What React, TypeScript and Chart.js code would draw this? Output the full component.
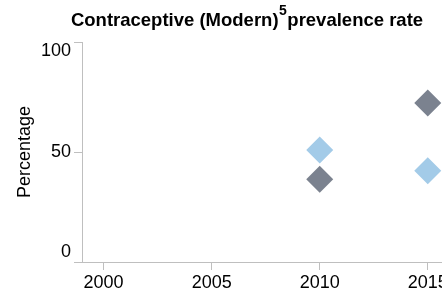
import React, { useEffect, useRef } from "react";
import { Chart, registerables } from "chart.js";
Chart.register(...registerables);

const TITLE_MAIN = "Contraceptive (Modern)";
const TITLE_SUP = "5";
const TITLE_REST = "prevalence rate";
const Y_TITLE = "Percentage";
const years = [2010, 2015];
const seriesDark = [37.6, 72.3];
const seriesLight = [50.9, 41.5];
const xTicks = [2000, 2005, 2010, 2015];
const yTicks = [0, 50, 100];

const DARK = "#7b828f";
const LIGHT = "#a3cbe8";
const AXIS = "#bfbfbf";
const FONT = "'Liberation Sans', Arial, sans-serif";

const titlePlugin = {
  id: "supTitle",
  afterDraw(chart: any) {
    const ctx = chart.ctx;
    ctx.save();
    ctx.fillStyle = "#000";
    ctx.textBaseline = "alphabetic";
    ctx.textAlign = "left";
    const mainFont = `bold 18.5px ${FONT}`;
    const supFont = `bold 14px ${FONT}`;
    ctx.font = mainFont;
    const w1 = ctx.measureText(TITLE_MAIN).width;
    const w3 = ctx.measureText(TITLE_REST).width;
    ctx.font = supFont;
    const w2 = ctx.measureText(TITLE_SUP).width;
    const gap = 0.5;
    const total = w1 + gap + w2 + gap + w3;
    let x = chart.width / 2 - total / 2;
    const baseY = 25.5;
    ctx.font = mainFont;
    ctx.fillText(TITLE_MAIN, x, baseY);
    x += w1 + gap;
    ctx.font = supFont;
    ctx.fillText(TITLE_SUP, x, baseY - 10.5);
    x += w2 + gap;
    ctx.font = mainFont;
    ctx.fillText(TITLE_REST, x, baseY);
    ctx.restore();
  },
};

const yLabelPlugin = {
  id: "yLabels",
  afterDraw(chart: any) {
    const ctx = chart.ctx;
    const scale = chart.scales.y;
    ctx.save();
    ctx.fillStyle = "#000";
    ctx.font = `18px ${FONT}`;
    ctx.textAlign = "right";
    const x = scale.right - 8 - 3;
    yTicks.forEach((v) => {
      const y = scale.getPixelForValue(v);
      if (v === scale.max) {
        ctx.textBaseline = "top";
        ctx.fillText(String(v), x, y);
      } else if (v === scale.min) {
        ctx.textBaseline = "alphabetic";
        ctx.fillText(String(v), x, y - 5);
      } else {
        ctx.textBaseline = "middle";
        ctx.fillText(String(v), x, y);
      }
    });
    ctx.restore();
  },
};

export default function App() {
  const ref = useRef<HTMLCanvasElement>(null);
  useEffect(() => {
    document.body.style.margin = "0";
    document.body.style.overflow = "hidden";
    const chart = new Chart(ref.current!, {
      type: "scatter",
      data: {
        datasets: [
          {
            label: "Series 1",
            data: years.map((x, i) => ({ x, y: seriesDark[i] })),
            backgroundColor: DARK,
            pointStyle: "rectRot",
            pointRadius: 13.5,
            pointHoverRadius: 13.5,
            borderWidth: 0,
          },
          {
            label: "Series 2",
            data: years.map((x, i) => ({ x, y: seriesLight[i] })),
            backgroundColor: LIGHT,
            pointStyle: "rectRot",
            pointRadius: 13.5,
            pointHoverRadius: 13.5,
            borderWidth: 0,
          },
        ],
      },
      options: {
        responsive: false,
        animation: false,
        layout: { padding: { left: 0, right: 23, top: 42, bottom: 0 } },
        plugins: {
          legend: { display: false },
          tooltip: { enabled: false },
          title: { display: false },
        },
        scales: {
          x: {
            type: "linear",
            min: 1999,
            max: 2017,
            afterBuildTicks: (s: any) => {
              s.ticks = xTicks.map((v) => ({ value: v }));
            },
            ticks: {
              callback: (v: any) => String(v),
              color: "#000",
              font: { family: FONT, size: 18 },
              padding: 2,
              maxRotation: 0,
              autoSkip: false,
            },
            grid: { drawOnChartArea: false, drawTicks: true, tickLength: 8, color: AXIS },
            border: { color: AXIS },
            afterFit: (s: any) => {
              s.height = 35;
            },
          },
          y: {
            min: 0,
            max: 100,
            afterBuildTicks: (s: any) => {
              s.ticks = yTicks.map((v) => ({ value: v }));
            },
            ticks: { display: false },
            grid: { drawOnChartArea: false, drawTicks: true, tickLength: 8, color: AXIS },
            border: { color: AXIS },
            title: {
              display: true,
              text: Y_TITLE,
              color: "#000",
              font: { family: FONT, size: 18 },
              padding: { top: 14, bottom: 0 },
            },
            afterFit: (s: any) => {
              s.width = 82;
            },
          },
        },
      },
      plugins: [titlePlugin, yLabelPlugin],
    });
    return () => chart.destroy();
  }, []);
  return (
    <div style={{ width: 442, height: 297, overflow: "hidden" }}>
      <canvas ref={ref} width={494} height={297} style={{ display: "block" }} />
    </div>
  );
}
